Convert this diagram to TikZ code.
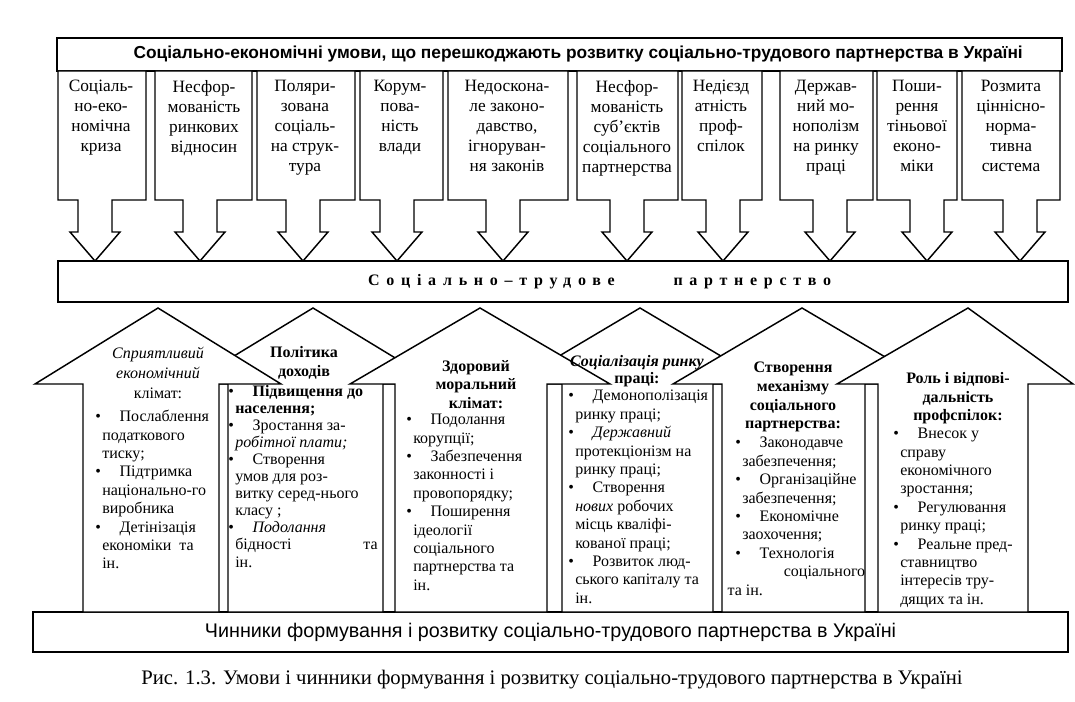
\documentclass[tikz,border=0pt]{standalone}
\usepackage{fontspec}
\setmainfont{Liberation Serif}
\setsansfont{Liberation Sans}
\usepackage{tikz}
\newcommand{\bul}{\llap{\textbullet\hspace{1pt}}\hspace{13pt}}
\newcommand{\causearrow}[3]{\draw[outline] (#1,71) -- (#1,200) -- (#3-17,200) -- (#3-17,232) -- (#3-25,232) -- (#3,261) -- (#3+25,232) -- (#3+17,232) -- (#3+17,200) -- (#2,200) -- (#2,71) -- cycle;}
\newcommand{\factorarrow}[5]{\draw[outline] (#1,612) -- (#1,384) -- (#4,384) -- (#3,308) -- (#5,384) -- (#2,384) -- (#2,612) -- cycle;}

\begin{document}
\begin{tikzpicture}[x=0.75pt, y=-0.75pt,
    outline/.style={draw, line width=1.1pt, fill=white, line join=miter},
    band/.style={draw, line width=1.1pt, fill=white, inner sep=0pt},
    causetext/.style={anchor=north, align=center, inner sep=0pt, font=\fontsize{13}{15}\selectfont},
    heading/.style={anchor=north, align=center, inner sep=0pt, font=\bfseries\fontsize{12}{14}\selectfont},
    items/.style={anchor=north west, align=left, inner sep=0pt, font=\fontsize{12}{13.8}\selectfont}]
  \useasboundingbox (0,0) rectangle (1075,702);

  % conditions that hinder partnership
  \node[band, minimum width=753.75pt, minimum height=24.75pt, font=\sffamily\bfseries\fontsize{13}{15}\selectfont] (header) at (559.5,54.5)
    {\hspace*{28pt}Соціально-економічні умови, що перешкоджають розвитку соціально-трудового партнерства в Україні};

  \causearrow{58}{146}{95}
  \causearrow{155}{252}{200}
  \causearrow{257}{355}{303}
  \causearrow{360}{443}{397}
  \causearrow{448}{568}{503}
  \causearrow{577}{678}{627}
  \causearrow{682}{762}{723}
  \causearrow{780}{873}{830}
  \causearrow{877}{957}{927}
  \causearrow{962}{1060}{1020}

  \node[causetext] (crisis) at (101,80) {Соціаль-\\но-еко-\\номічна\\криза};
  \node[causetext] (market) at (204,80) {Несфор-\\мованість\\ринкових\\відносин};
  \node[causetext] (polar) at (305,80) {Поляри-\\зована\\соціаль-\\на струк-\\тура};
  \node[causetext] (corrupt) at (400,80) {Корум-\\пова-\\ність\\влади};
  \node[causetext] (laws) at (507,80) {Недоскона-\\ле законо-\\давство,\\ігноруван-\\ня законів};
  \node[causetext] (subjects) at (627,80) {Несфор-\\мованість\\суб'єктів\\соціального\\партнерства};
  \node[causetext] (unions) at (721,80) {Недієзд\\атність\\проф-\\спілок};
  \node[causetext] (monopoly) at (826,80) {Держав-\\ний мо-\\нополізм\\на ринку\\праці};
  \node[causetext] (shadow) at (917,80) {Поши-\\рення\\тіньової\\еконо-\\міки};
  \node[causetext] (values) at (1011,80) {Розмита\\ціннісно-\\норма-\\тивна\\система};

  \node[band, minimum width=757.5pt, minimum height=30.75pt, font=\bfseries\fontsize{12}{14}\selectfont\addfontfeature{LetterSpace=42}] (partnership) at (563,281.5)
    {\hspace*{55pt}Соціально–трудове\hspace{44pt}партнерство};

  % factors of formation
  \node[band, minimum width=776.25pt, minimum height=30pt, font=\sffamily\fontsize{14.8}{17}\selectfont] (factors) at (550.5,632)
    {Чинники формування і розвитку соціально-трудового партнерства в Україні};

  \factorarrow{228}{383}{313}{188}{438}
  \factorarrow{562}{713}{640}{512}{768}
  \factorarrow{83}{219}{158}{35}{281}
  \factorarrow{395}{547}{480}{350}{610}
  \factorarrow{722}{865}{802}{673}{931}
  \factorarrow{878}{1028}{968}{837}{1073}

  \node[heading, font=\fontsize{12}{15}\selectfont] (climate) at (158,347) {\textit{Сприятливий}\\\textit{економічний}\\клімат:};
  \node[items] (climatelist) at (102,410) {\bul Послаблення\\податкового\\тиску;\\\bul Підтримка\\національно-го\\виробника\\\bul Детінізація\\економіки\ \ та\\ін.};

  \node[heading] (income) at (304,346) {Політика\\доходів};
  \node[items, font=\fontsize{12}{12.8}\selectfont] (incomelist) at (235,385) {\bul \textbf{Підвищення до}\\\textbf{населення;}\\\bul Зростання за-\\\textit{робітної плати;}\\\bul Створення\\умов для роз-\\витку серед-нього\\класу ;\\\bul \textit{Подолання}\\бідності\hspace{4.5em}та\\ін.};

  \node[heading] (moral) at (476,360) {Здоровий\\моральний\\клімат:};
  \node[items] (morallist) at (413,414) {\bul Подолання\\корупції;\\\bul Забезпечення\\законності і\\провопорядку;\\\bul Поширення\\ідеології\\соціального\\партнерства та\\ін.};

  \node[heading, font=\bfseries\fontsize{12}{13}\selectfont] (labour) at (637,355) {\textit{Соціалізація ринку}\\праці:};
  \node[items] (labourlist) at (575,390) {\bul Демонополізація\\ринку праці;\\\bul \textit{Державний}\\протекціонізм на\\ринку праці;\\\bul Створення\\\textit{нових} робочих\\місць кваліфі-\\кованої праці;\\\bul Розвиток люд-\\ського капіталу та\\ін.};

  \node[heading] (mechanism) at (793,362) {Створення\\механізму\\соціального\\партнерства:};
  \node[items] (mechanismlist) at (742,437) {\bul Законодавче\\забезпечення;\\\bul Організаційне\\забезпечення;\\\bul Економічне\\заохочення;\\\bul Технологія\\\hspace*{2.6em}соціального\\\hspace*{-11pt}та ін.};

  \node[heading] (role) at (958,372) {Роль і відпові-\\дальність\\профспілок:};
  \node[items] (rolelist) at (900,428) {\bul Внесок у\\справу\\економічного\\зростання;\\\bul Регулювання\\ринку праці;\\\bul Реальне пред-\\ставництво\\інтересів тру-\\дящих та ін.};

  \node[font=\fontsize{15.5}{18}\selectfont] (caption) at (552,680)
    {Рис. 1.3. Умови і чинники формування і розвитку соціально-трудового партнерства в Україні};
\end{tikzpicture}
\end{document}
